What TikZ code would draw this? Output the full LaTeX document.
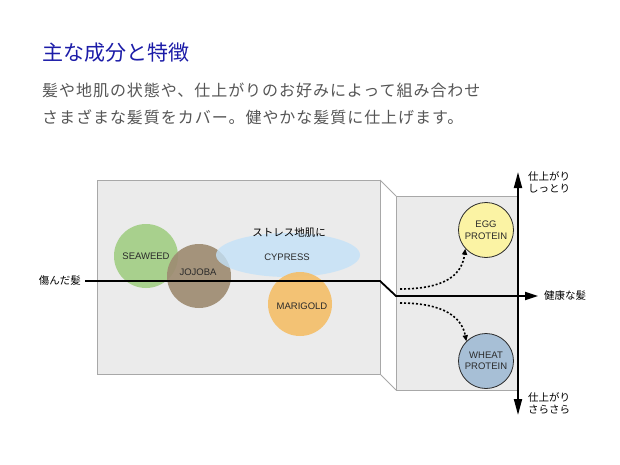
\documentclass[tikz,border=0pt]{standalone}
\usepackage{fontspec}
\setmainfont{Noto Sans CJK JP}
\newfontfamily\jpbody[LetterSpace=6]{Noto Sans CJK JP}
\newfontfamily\latfont{Liberation Sans}
\usetikzlibrary{arrows.meta,shapes.geometric}
\definecolor{titleblue}{HTML}{1C1CA8}
\definecolor{bodygray}{HTML}{555555}
\definecolor{panelfill}{HTML}{EBEBEB}
\definecolor{panelline}{HTML}{A8A8A8}
\definecolor{seaweedc}{HTML}{A8D08D}
\definecolor{jojobac}{HTML}{9E8C72}
\definecolor{cypressc}{HTML}{C4E2F8}
\definecolor{marigoldc}{HTML}{F4BF6A}
\definecolor{eggc}{HTML}{FBF3A4}
\definecolor{wheatc}{HTML}{A7BFD6}
\definecolor{labelc}{HTML}{2A2A2A}
\begin{document}
\begin{tikzpicture}[x=1pt,y=-1pt,
  panel/.style={fill=panelfill,draw=panelline,line width=0.8pt},
  edgeline/.style={draw=panelline,line width=0.8pt},
  blob/.style={circle,minimum size=64pt,inner sep=0pt,draw=none,text=labelc,
    font=\latfont\fontsize{9.5}{11}\selectfont},
  ring/.style={circle,minimum size=55pt,inner sep=0pt,draw=labelc,line width=0.8pt,
    text=labelc,align=center,font=\latfont\fontsize{9.5}{11.5}\selectfont},
  jplabel/.style={inner sep=0pt,text=black,font=\fontsize{10.5}{12.5}\selectfont},
  mainline/.style={line width=1.8pt,black},
  dotarrow/.style={line width=1.6pt,dash pattern=on 2pt off 2pt,
    -{Triangle[length=6pt,width=5pt]}},
]
\useasboundingbox (0,0) rectangle (620,465);

% heading and text
\node[anchor=west,inner sep=0pt,text=titleblue,font=\fontsize{21}{21}\selectfont] (title) at (42,53) {主な成分と特徴};
\node[anchor=west,inner sep=0pt,text=bodygray,font=\jpbody\fontsize{16}{16}\selectfont] (body1) at (42,90) {髪や地肌の状態や、仕上がりのお好みによって組み合わせ};
\node[anchor=west,inner sep=0pt,text=bodygray,font=\jpbody\fontsize{16}{16}\selectfont] (body2) at (42,117) {さまざまな髪質をカバー。健やかな髪質に仕上げます。};

% panels
\draw[panel] (97,180) rectangle (380,374);
\draw[edgeline] (380,180) -- (396,196);
\draw[edgeline] (380,374) -- (396,390);
\draw[panel] (396,196) rectangle (518,390);

% ingredients
\node[blob,fill=seaweedc] (seaweed) at (146,256) {SEAWEED};
\node[blob,fill=jojobac,fill opacity=0.92,text opacity=1] (jojoba) at (199,276) {};
\node[ellipse,minimum width=144pt,minimum height=44pt,inner sep=0pt,fill=cypressc,fill opacity=0.8] (cypress) at (288,255) {};
\node[blob,fill=marigoldc,fill opacity=0.92] (marigold) at (300,304) {};
\node[inner sep=0pt,text=labelc,font=\latfont\fontsize{9.5}{11}\selectfont] (jojobat) at (198,272) {JOJOBA};
\node[inner sep=0pt,text=labelc,font=\latfont\fontsize{9.5}{11}\selectfont] (cypresst) at (287,257) {CYPRESS};
\node[inner sep=0pt,text=labelc,font=\latfont\fontsize{9.5}{11}\selectfont] (marigoldt) at (302,306) {MARIGOLD};
\node[jplabel] (stress) at (289,233) {ストレス地肌に};

\node[ring,fill=eggc] (egg) at (486,230) {EGG\\PROTEIN};
\node[ring,fill=wheatc] (wheat) at (486,361) {WHEAT\\PROTEIN};

% axes and labels
\node[jplabel,anchor=east] (hurt) at (81,281) {傷んだ髪};
\node[jplabel,anchor=west] (healthy) at (544,296) {健康な髪};
\coordinate (bendA) at (380,281);
\coordinate (bendB) at (396,296);
\draw[mainline,-{Triangle[length=13pt,width=8pt]}] ([xshift=4pt]hurt.east) -- (bendA) -- (bendB) -- ([xshift=-6pt]healthy.west);

\coordinate (vtop) at (518,172);
\coordinate (vbot) at (518,415);
\draw[mainline,{Triangle[length=16pt,width=8pt]}-{Triangle[length=16pt,width=8pt]}] (vtop) -- (vbot);
\node[jplabel,anchor=north west,align=left,font=\fontsize{10.5}{12}\selectfont] (moist) at (528,171) {仕上がり\\しっとり};
\node[jplabel,anchor=north west,align=left,font=\fontsize{10.5}{12}\selectfont] (smooth) at (528,392) {仕上がり\\さらさら};

% dotted arrows
\coordinate (dstart1) at (400,289);
\coordinate (dstart2) at (400,303);
\draw[dotarrow] (dstart1) .. controls (445,289) and (462,275) .. ([shift={(-1pt,1pt)}]egg.225);
\draw[dotarrow] (dstart2) .. controls (445,303) and (462,318) .. ([shift={(-1pt,-1pt)}]wheat.132);
\end{tikzpicture}
\end{document}
